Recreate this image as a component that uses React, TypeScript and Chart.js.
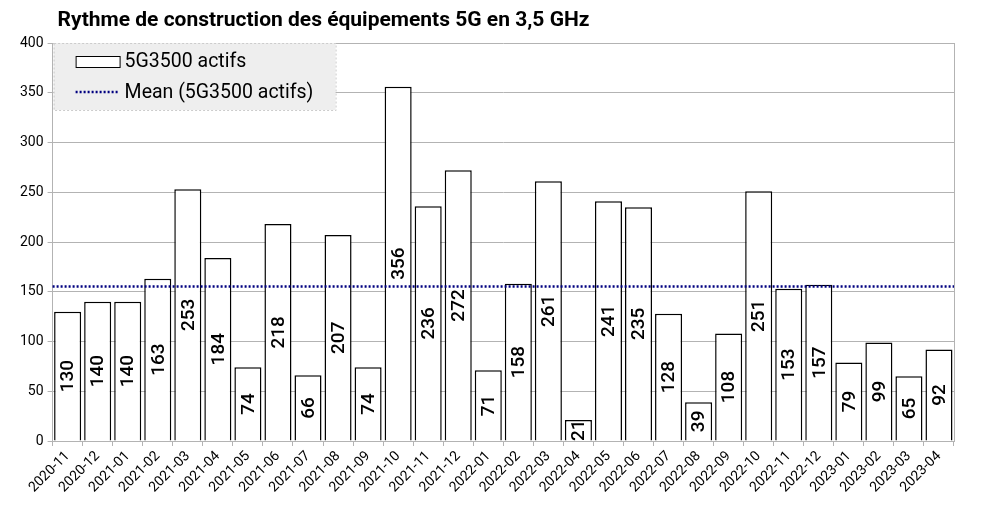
import React, { useEffect, useRef } from 'react';
import { Chart, registerables } from 'chart.js';

Chart.register(...registerables);

const title = 'Rythme de construction des équipements 5G en 3,5 GHz';
const seriesLabel = '5G3500 actifs';
const meanLabel = 'Mean (5G3500 actifs)';

const months = [
  '2020-11', '2020-12', '2021-01', '2021-02', '2021-03', '2021-04', '2021-05', '2021-06',
  '2021-07', '2021-08', '2021-09', '2021-10', '2021-11', '2021-12', '2022-01', '2022-02',
  '2022-03', '2022-04', '2022-05', '2022-06', '2022-07', '2022-08', '2022-09', '2022-10',
  '2022-11', '2022-12', '2023-01', '2023-02', '2023-03', '2023-04',
];

const actifs = [
  130, 140, 140, 163, 253, 184, 74, 218, 66, 207, 74, 356, 236, 272, 71, 158,
  261, 21, 241, 235, 128, 39, 108, 251, 153, 157, 79, 99, 65, 92,
];

const mean = actifs.reduce((a, b) => a + b, 0) / actifs.length;

const FONT = 'Roboto, "Liberation Sans", Arial, sans-serif';
const NAVY = '#000080';

// mean line, frame, title, value labels and the legend box
const extras = {
  id: 'extras',
  afterDatasetsDraw(chart: any) {
    const { ctx, chartArea } = chart;
    const meta = chart.getDatasetMeta(0);
    ctx.save();

    // mean line across the whole plot
    const my = Math.round(chart.scales.y.getPixelForValue(mean)) + 0.5;
    ctx.strokeStyle = NAVY;
    ctx.lineWidth = 2.5;
    ctx.setLineDash([2, 2]);
    ctx.beginPath();
    ctx.moveTo(chartArea.left, my);
    ctx.lineTo(chartArea.right, my);
    ctx.stroke();
    ctx.setLineDash([]);

    ctx.fillStyle = '#000';
    ctx.font = `500 19px ${FONT}`;
    ctx.textAlign = 'center';
    ctx.textBaseline = 'middle';
    meta.data.forEach((bar: any, i: number) => {
      const cy = (bar.y + bar.base) / 2;
      ctx.save();
      ctx.translate(bar.x, cy);
      ctx.rotate(-Math.PI / 2);
      ctx.fillText(String(actifs[i]), 0, 1);
      ctx.restore();
    });
    ctx.restore();
  },
  afterDraw(chart: any) {
    const { ctx, chartArea } = chart;
    ctx.save();
    // right frame line
    ctx.strokeStyle = '#b3b3b3';
    ctx.lineWidth = 1;
    ctx.beginPath();
    ctx.moveTo(chartArea.right + 0.5, chartArea.top);
    ctx.lineTo(chartArea.right + 0.5, chartArea.bottom);
    ctx.stroke();

    // title
    ctx.fillStyle = '#000';
    ctx.font = `bold 21px ${FONT}`;
    ctx.textAlign = 'left';
    ctx.textBaseline = 'middle';
    ctx.fillText(title, chartArea.left + 5, 21);

    // legend box
    const bx = chartArea.left + 1;
    const by = chartArea.top;
    const bw = 282;
    const bh = 67;
    ctx.fillStyle = '#eeeeee';
    ctx.fillRect(bx, by, bw, bh);
    ctx.setLineDash([2, 2]);
    ctx.strokeStyle = '#cccccc';
    ctx.strokeRect(bx + 0.5, by + 0.5, bw, bh);
    ctx.setLineDash([]);

    const sx = bx + 22;
    const y1 = by + 18;
    const y2 = by + 49;
    ctx.fillStyle = '#fff';
    ctx.fillRect(sx, y1 - 5, 44, 11);
    ctx.strokeStyle = '#000';
    ctx.lineWidth = 1;
    ctx.strokeRect(sx + 0.5, y1 - 5 + 0.5, 44, 11);

    ctx.strokeStyle = NAVY;
    ctx.lineWidth = 2.5;
    ctx.setLineDash([2, 2]);
    ctx.beginPath();
    ctx.moveTo(sx, y2);
    ctx.lineTo(sx + 44, y2);
    ctx.stroke();
    ctx.setLineDash([]);

    ctx.fillStyle = '#000';
    ctx.font = `19.5px ${FONT}`;
    ctx.textBaseline = 'middle';
    ctx.fillText(seriesLabel, sx + 49, y1 + 1);
    ctx.fillText(meanLabel, sx + 49, y2 + 1);
    ctx.restore();
  },
};

export default function App() {
  const canvasRef = useRef<HTMLCanvasElement | null>(null);
  const chartRef = useRef<Chart | null>(null);

  useEffect(() => {
    document.body.style.margin = '0';
    const ctx = canvasRef.current?.getContext('2d');
    if (!ctx) return;

    try { chartRef.current?.destroy(); } catch {}

    chartRef.current = new Chart(ctx, {
      type: 'bar',
      data: {
        labels: months,
        datasets: [
          {
            label: seriesLabel,
            data: actifs,
            backgroundColor: '#ffffff',
            borderColor: '#000000',
            borderWidth: 1.5,
            barPercentage: 0.9,
            categoryPercentage: 1,
          },
        ],
      },
      options: {
        responsive: true,
        maintainAspectRatio: false,
        animation: false,
        layout: { padding: { top: 43, right: 31, left: 16, bottom: 9 } },
        plugins: {
          legend: { display: false },
          title: { display: false },
          tooltip: { enabled: false },
        },
        scales: {
          x: {
            type: 'category',
            offset: true,
            grid: {
              display: true,
              drawOnChartArea: false,
              offset: true,
              color: '#b3b3b3',
              tickLength: 5,
            },
            border: { color: '#b3b3b3' },
            ticks: {
              color: '#000',
              font: { family: FONT, size: 14 },
              maxRotation: 45,
              minRotation: 45,
              autoSkip: false,
              padding: 2,
            },
          },
          y: {
            min: 0,
            max: 400,
            ticks: {
              stepSize: 50,
              color: '#000',
              font: { family: FONT, size: 14 },
              padding: 4,
            },
            grid: { color: '#b3b3b3', tickLength: 5 },
            border: { color: '#b3b3b3' },
          },
        },
      },
      plugins: [extras],
    } as any);

    return () => {
      try { chartRef.current?.destroy(); } catch {}
      chartRef.current = null;
    };
  }, []);

  return (
    <div style={{ width: 985, height: 507 }}>
      <canvas ref={canvasRef} />
    </div>
  );
}
